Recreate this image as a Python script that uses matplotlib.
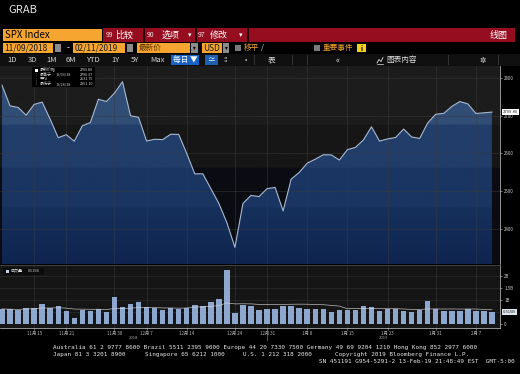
import numpy as np
import pandas as pd
import matplotlib
matplotlib.use("Agg")
import matplotlib.pyplot as plt
from matplotlib.patches import Rectangle
from matplotlib.transforms import blended_transform_factory

plt.rcParams['font.family'] = ['Noto Sans CJK SC', 'DejaVu Sans']

W, H = 520, 374

# SPX daily close, 11/09/2018 - 02/11/2019
price = [2781.01, 2726.22, 2722.18, 2701.58, 2730.20, 2736.27, 2690.73, 2641.89, 2649.93, 2632.56,
         2673.45, 2682.17, 2743.79, 2737.80, 2760.17, 2790.37, 2700.06, 2695.95, 2633.08, 2637.72,
         2636.78, 2651.07, 2650.54, 2599.95, 2545.94, 2546.16, 2506.96, 2467.42, 2416.62, 2351.10,
         2467.70, 2488.83, 2485.74, 2506.85, 2510.03, 2447.89, 2531.94, 2549.69, 2574.41, 2584.96,
         2596.64, 2596.26, 2582.61, 2610.30, 2616.10, 2635.96, 2670.71, 2632.90, 2638.70, 2642.33,
         2664.76, 2643.85, 2640.00, 2681.05, 2704.10, 2706.53, 2724.87, 2737.70, 2731.61, 2706.05,
         2707.88, 2709.80]

# volume in billions
volume = [0.64, 0.62, 0.60, 0.69, 0.69, 0.83, 0.69, 0.75, 0.55, 0.28,
          0.60, 0.55, 0.65, 0.53, 1.12, 0.72, 0.85, 0.92, 0.72, 0.69,
          0.60, 0.67, 0.62, 0.69, 0.80, 0.76, 0.93, 1.04, 2.26, 0.48,
          0.79, 0.78, 0.60, 0.62, 0.64, 0.76, 0.76, 0.68, 0.65, 0.62,
          0.62, 0.53, 0.60, 0.60, 0.61, 0.78, 0.72, 0.57, 0.62, 0.64,
          0.57, 0.51, 0.61, 0.99, 0.65, 0.54, 0.57, 0.54, 0.65, 0.57,
          0.54, 0.515]

tick_idx = [4, 8, 14, 18, 23, 29, 33, 38, 43, 48, 54, 59]
tick_labels = ["11月 15", "11月 21", "11月 30", "12月 7", "12月 14", "12月 24",
               "12月 31", "1月 8", "1月 15", "1月 23", "1月 31", "2月 7"]
price_ticks = [2400, 2500, 2600, 2700, 2800]
vol_ticks = [0, 1, 1.5, 2]
vol_tick_labels = ["0", "1B", "1.5B", "2B"]


def hex2rgb(h):
    h = h.lstrip('#')
    return [int(h[i:i + 2], 16) / 255 for i in (0, 2, 4)]


fig = plt.figure(figsize=(W / 100, H / 100), dpi=100)
fig.patch.set_facecolor('black')


def px_axes(x0, y0, x1, y1):
    return fig.add_axes([x0 / W, 1 - y1 / H, (x1 - x0) / W, (y1 - y0) / H])


x = np.arange(len(price))
xl = (-0.25, 62.0)

# ---------------- price panel ----------------
ax = px_axes(0, 66, 500, 264)
yl = (2307, 2832)
levels = np.linspace(yl[0], yl[1], 300)

bg = np.array([hex2rgb('#1c1c1c') if v > 2676 else hex2rgb('#161616') if v > 2562
               else hex2rgb('#0b0c12') for v in levels])[:, None, :]
ax.imshow(bg, extent=[xl[0], xl[1], yl[0], yl[1]], aspect='auto', origin='lower', zorder=0)

fc = []
for v in levels:
    if v > 2676:
        fc.append(hex2rgb('#304d76'))
    elif v > 2562:
        fc.append(hex2rgb('#213d69'))
    elif v > 2458:
        fc.append(hex2rgb('#1a3562'))
    else:
        t = (v - yl[0]) / (2458 - yl[0])
        a, b = np.array(hex2rgb('#0f2550')), np.array(hex2rgb('#16305c'))
        fc.append(list(a + (b - a) * t))
fc = np.array(fc)[:, None, :]
poly = ax.fill_between(x, price, yl[0], color='none')
grad = ax.imshow(fc, extent=[xl[0], xl[1], yl[0], yl[1]], aspect='auto', origin='lower', zorder=1)
grad.set_clip_path(poly.get_paths()[0], transform=ax.transData)

for p in price_ticks:
    ax.axhline(p, color='#3a3a3a', lw=0.5, alpha=0.7, zorder=2)
for t in tick_idx:
    ax.axvline(t, color='#3a3a3a', lw=0.5, alpha=0.7, zorder=2)

ax.plot(x, price, color='#a9b9d0', lw=0.8, zorder=3)
ax.set_xlim(*xl)
ax.set_ylim(*yl)
ax.yaxis.tick_right()
ax.set_yticks(price_ticks)
ax.set_yticklabels([str(p) for p in price_ticks])
ax.tick_params(axis='y', colors='#cccccc', labelsize=3.2, length=1.5, width=0.4, pad=1.5)
ax.set_xticks([])
for s in ['top', 'left', 'bottom']:
    ax.spines[s].set_visible(False)
ax.spines['right'].set_color('#d0d0d0')
ax.spines['right'].set_linewidth(0.5)
tr = blended_transform_factory(ax.transAxes, ax.transData)
ax.text(1.006, price[-1], f"{price[-1]:.2f}", transform=tr, fontsize=3, color='#222222',
        va='center', ha='left', bbox=dict(fc='white', ec='none', pad=0.6), zorder=6, clip_on=False)

# ---------------- volume panel ----------------
vx = px_axes(0, 265, 500, 328)
vx.set_facecolor('#151515')
for v in [0.5, 1, 1.5, 2]:
    vx.axhline(v, color='#2c2c2c', lw=0.5, zorder=0)
for t in tick_idx:
    vx.axvline(t, color='#3a3a3a', lw=0.5, alpha=0.7, zorder=0)
vx.bar(x, volume, width=0.68, color='#8ea7cf', zorder=2)
ma = pd.Series(volume).rolling(15, min_periods=1).mean()
vx.plot(x, ma, color='#d8d8d8', lw=0.5, alpha=0.85, zorder=3)
vx.set_xlim(*xl)
vx.set_ylim(-0.154, 2.47)
vx.yaxis.tick_right()
vx.set_yticks(vol_ticks)
vx.set_yticklabels(vol_tick_labels)
vx.tick_params(axis='y', colors='#cccccc', labelsize=3.2, length=1.5, width=0.4, pad=1.5)
vx.set_xticks(tick_idx)
vx.set_xticklabels(tick_labels)
vx.tick_params(axis='x', colors='#bbbbbb', labelsize=3.2, length=1.5, width=0.4, pad=1)
vx.spines['left'].set_visible(False)
vx.spines['top'].set_color('#4a4a4a')
vx.spines['top'].set_linewidth(0.6)
for s in ['right', 'bottom']:
    vx.spines[s].set_color('#d0d0d0')
    vx.spines[s].set_linewidth(0.5)
trv = blended_transform_factory(vx.transAxes, vx.transData)
vx.text(1.006, volume[-1], f"{volume[-1]:.3f}B", transform=trv, fontsize=3, color='#222222',
        va='center', ha='left', bbox=dict(fc='#dfe6f0', ec='none', pad=0.6), zorder=6, clip_on=False)

# ---------------- terminal chrome ----------------
ui = fig.add_axes([0, 0, 1, 1])
ui.set_xlim(0, W)
ui.set_ylim(H, 0)
ui.axis('off')
ui.patch.set_alpha(0)
ui.set_zorder(5)


def rect(x0, y0, x1, y1, color, **kw):
    ui.add_patch(Rectangle((x0, y0), x1 - x0, y1 - y0, facecolor=color, edgecolor='none', **kw))


def txt(xp, yp, s, size, color, ha='left', **kw):
    ui.text(xp, yp, s, fontsize=size, color=color, ha=ha, va='center', **kw)


orange = '#f6a630'
txt(8, 10, "GRAB", 8, '#e6e6e6')

# row 1
rect(3, 29, 102, 41, orange)
txt(5, 35, "SPX Index", 7, 'black')
rect(103, 28, 515, 42, '#950d1f')
for xs in [143, 195, 247]:
    rect(xs, 28, xs + 1.5, 42, '#2a0006')
txt(106, 35, "99", 5, '#f0e0e0')
txt(115, 35, "比较", 6.5, 'white')
txt(147, 35, "90", 5, '#f0e0e0')
txt(162, 35, "选项", 6.5, 'white')
txt(188, 35, "▾", 5, 'white')
txt(198, 35, "97", 5, '#f0e0e0')
txt(210, 35, "修改", 6.5, 'white')
txt(239, 35, "▾", 5, 'white')
txt(508, 35, "线图", 6.5, 'white', ha='right')

# row 2
rect(3, 43, 53, 53, orange)
txt(4, 48, "11/09/2018", 6, '#1a1a1a')
rect(55, 44, 61, 52, '#8c8c8c')
txt(68, 48, "-", 6, 'white', ha='center')
rect(73, 43, 125, 53, orange)
txt(75, 48, "02/11/2019", 6, '#1a1a1a')
rect(127, 44, 133, 52, '#8c8c8c')
rect(137, 43, 190, 53, orange)
txt(139, 48, "最新价", 5.5, '#5a3000')
rect(191, 43, 198, 53, '#8c8c8c')
txt(194.5, 48, "▾", 4, 'black', ha='center')
rect(202, 43, 222, 53, orange)
txt(203, 48, "USD", 6, '#1a1a1a')
rect(223, 43, 229, 53, '#8c8c8c')
txt(226, 48, "▾", 4, 'black', ha='center')
rect(235, 45, 241, 51, '#7a7a7a')
txt(244, 48, "移平", 5.5, orange)
txt(261, 48, "/", 5.5, '#dddddd')
rect(314, 45, 320, 51, '#7a7a7a')
txt(323, 48, "重要事件", 5.5, orange)
rect(357, 44, 366, 52, '#f2d21c')
txt(361.5, 48, "i", 5, 'black', ha='center', fontweight='bold')

# row 3
rect(0, 54, 520, 66, '#101010')
for lbl, xc in [("1D", 12), ("3D", 32), ("1M", 52), ("6M", 71), ("YTD", 93),
                ("1Y", 116), ("5Y", 135), ("Max", 157)]:
    txt(xc, 60, lbl, 5.5, '#d5d5d5', ha='center')
rect(171, 55, 199, 65, '#1762c2')
txt(185, 60, "每日 ▼", 5.5, 'white', ha='center')
rect(205, 55, 218, 65, '#1f5fb0')
txt(211.5, 60, "≃", 5.5, 'white', ha='center')
txt(226, 60, "⁞⁞", 5, '#cfcfcf', ha='center', family='DejaVu Sans')
txt(246, 60, "·", 6, '#cfcfcf', ha='center')
for xs in [254, 292, 307, 448, 498]:
    rect(xs, 55, xs + 1, 65, '#333333')
txt(272, 60, "表", 5.5, '#e0e0e0', ha='center')
txt(338, 60, "«", 6, '#e0e0e0', ha='center')
# small chart icon before 图表内容
ui.plot([377, 379, 381, 383], [63, 59.5, 61.5, 57.5], color='#e0e0e0', lw=0.6)
ui.plot([377, 383], [63.5, 63.5], color='#e0e0e0', lw=0.5)
txt(386, 60, "图表内容", 5.5, '#e0e0e0')
txt(483, 60, "✲", 5.5, '#e0e0e0', ha='center', family='DejaVu Sans')

# price legend box
rect(32, 67, 95, 87, 'black')
rect(35, 68.7, 38, 71.7, 'white')
rows = [("最新价格", "", f"{price[-1]:.2f}"),
        ("最高于", "12/03/18", f"{max(price):.2f}"),
        ("平均", "", f"{np.mean(price):.2f}"),
        ("最低于", "12/24/18", f"{min(price):.2f}")]
for i, (a, d, v) in enumerate(rows):
    yy = 70.2 + i * 4.6
    if i > 0:
        txt(36.5, yy, "¦", 2.6, '#999999', ha='center', family='DejaVu Sans')
    txt(40, yy, a, 2.9, '#dddddd')
    if d:
        txt(56, yy, d, 2.7, '#cccccc')
    txt(93, yy, v, 2.7, '#dddddd', ha='right')

# volume legend
rect(3, 268, 44, 275, '#0c0c0c')
rect(6, 270, 9, 273, '#c8d3e6')
txt(11, 271.5, "成交量", 2.9, '#dddddd')
txt(28, 271.5, f"{volume[-1]:.3f}B", 2.7, '#cccccc')

# year labels
txt(133, 338, "2018", 3, '#aaaaaa', ha='center')
txt(383, 338, "2019", 3, '#aaaaaa', ha='center')
ui.plot([267, 267], [329, 340], color='#777777', lw=0.5)

# footer
mono = dict(family='DejaVu Sans Mono')
txt(53, 347.5, "Australia 61 2 9777 8600 Brazil 5511 2395 9000 Europe 44 20 7330 7500 "
    "Germany 49 69 9204 1210 Hong Kong 852 2977 6000", 4.3, '#e8e8e8', **mono)
txt(53, 354.5, "Japan 81 3 3201 8900", 4.3, '#e8e8e8', **mono)
txt(145, 354.5, "Singapore 65 6212 1000", 4.3, '#e8e8e8', **mono)
txt(243, 354.5, "U.S. 1 212 318 2000", 4.3, '#e8e8e8', **mono)
txt(335, 354.5, "Copyright 2019 Bloomberg Finance L.P.", 4.3, '#e8e8e8', **mono)
txt(515, 361.5, "SN 451191 G954-5291-2 13-Feb-19 21:48:49 EST  GMT-5:00", 4.3, '#e8e8e8',
    ha='right', **mono)

fig.savefig("out.png", dpi=100, facecolor=fig.get_facecolor())
